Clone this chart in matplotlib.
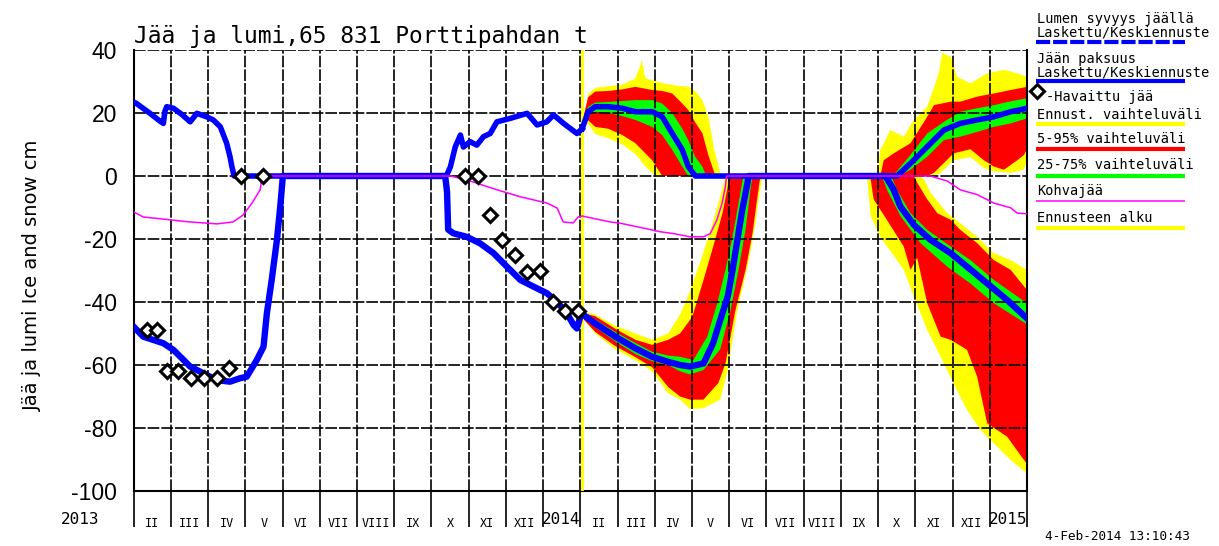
import numpy as np
import matplotlib
matplotlib.use('Agg')
import matplotlib.pyplot as plt
from matplotlib.lines import Line2D

# ---------------- data (x in months since Jan 2013) ----------------
title = "Jää ja lumi,65 831 Porttipahdan t"
ylabel = "Jää ja lumi Ice and snow cm"
month_labels = ['II', 'III', 'IV', 'V', 'VI', 'VII', 'VIII', 'IX', 'X', 'XI', 'XII']
year_labels = ['2013', '2014', '2015']
y_ticks = [40, 20, 0, -20, -40, -60, -80, -100]
forecast_start = 12.05
stamp = "4-Feb-2014 13:10:43"

# observed / computed snow depth on ice
snow_obs_m = [0, 0.08, 0.44, 0.70, 0.80, 0.84, 0.89, 1.07, 1.30, 1.52, 1.70, 1.96, 2.14, 2.33, 2.50, 2.59,
              2.64, 2.70, 8.37, 8.42, 8.51, 8.64, 8.72, 8.78, 8.86, 9.04, 9.22, 9.40, 9.58, 9.76, 10.12,
              10.57, 10.84, 11.10, 11.28, 11.55, 11.91, 12.05]
snow_obs_v = [23.5, 23, 19.9, 17.5, 16.7, 20.5, 22, 21.5, 19.5, 17.2, 19.9, 18.8, 17.8, 15.6, 10.4, 6.1,
              3, 0, 0, 0.5, 2.9, 9.2, 11.4, 13, 9.2, 10.9, 9.8, 12.5, 13.5, 17.2, 18.3,
              19.9, 16.2, 17.2, 19.4, 16.7, 13.5, 15]

# observed / computed ice thickness
ice_obs_m = [0, 0.26, 0.80, 1.07, 1.52, 1.87, 2.23, 2.59, 2.86, 3.04, 3.31, 3.49, 3.58, 3.71, 3.85, 3.94,
             4.01, 8.37, 8.42, 8.45, 8.59, 8.95, 9.31, 9.67, 10.03, 10.39, 10.74, 11.10, 11.37, 11.64,
             11.82, 11.91, 12.0, 12.05]
ice_obs_v = [-47.8, -51, -53.1, -55.2, -60.5, -62.6, -64.8, -65.3, -64.2, -63.7, -58.4, -54.2, -43.6, -33,
             -20.3, -9.7, 0, 0, -5, -17, -18.2, -19.3, -21.4, -24.5, -28.8, -33, -35.1, -37.2, -39.9,
             -43.6, -47.3, -48.4, -44.7, -43.8]

# observed ice (diamonds)
obs_m = [0.36, 0.63, 0.90, 1.19, 1.54, 1.89, 2.24, 2.56, 2.89, 3.48,
         8.91, 9.26, 9.58, 9.90, 10.25, 10.58, 10.92, 11.27, 11.60, 11.94]
obs_v = [-49, -49, -62, -62, -64, -64, -64, -61, 0, 0,
         0, 0, -12.4, -20.3, -25, -30.5, -30, -40, -43, -43]

# slush ice (kohvajää)
kohva_m = [0, 0.26, 1.52, 2.24, 2.67, 2.94, 3.18, 3.40, 3.45, 8.51, 8.96, 9.77, 10.39, 11.11, 11.38, 11.54,
           11.81, 11.94, 12.05, 12.81, 13.08, 13.88, 14.15, 14.51, 14.95, 15.31, 15.49, 15.67, 15.81,
           15.90, 15.93, 21.40, 21.86, 22.21, 22.66, 23.11, 23.56, 23.74, 24.0]
kohva_v = [-11.4, -13, -14.6, -15.2, -14.6, -12.4, -8.6, -4.4, 0, 0, -1.3, -4.4, -6.6, -8.6, -10.2, -14.6,
           -14.9, -13, -12.7, -14.6, -15, -17, -17.7, -18.3, -19.3, -19.3, -18.3, -13.9, -8.6,
           -3.2, 0, 0, -1.6, -4.4, -5.9, -8.6, -10.1, -11.8, -12]

# forecast medians
snow_med_m = [12.05, 12.21, 12.40, 12.75, 13.13, 13.48, 13.93, 14.20, 14.47, 14.74, 14.90, 15.09,
              20.51, 20.87, 21.32, 21.77, 22.21, 22.66, 23.11, 23.56, 24.0]
snow_med_v = [15, 20.4, 22, 22, 21.5, 20.4, 20.4, 18.8, 13.5, 8.3, 3, 0,
              0, 4, 9.3, 14.6, 16.7, 17.8, 18.8, 20.4, 21.5]
ice_med_m = [12.05, 12.40, 12.94, 13.48, 13.93, 14.36, 14.68, 14.95, 15.31, 15.57, 15.76, 15.96, 16.09,
             16.22, 16.35, 16.49, 16.52, 20.20, 20.42, 20.60, 20.96, 21.41, 21.95, 22.39, 22.93,
             23.47, 24.0]
ice_med_v = [-43.8, -46.8, -51, -54.7, -57.4, -59, -60, -60.5, -59.5, -53, -45.7, -38.3, -29.8,
             -20.3, -10.8, -2.3, 0, 0, -4.4, -9.7, -15.5, -20.3, -24.5, -28.8, -34.1, -39.4, -45.2]

# ---- snow forecast bands, spring 2014 ----
sy_hi_m = [12.05, 12.21, 12.40, 12.75, 13.13, 13.48, 13.61, 13.65, 13.75, 13.93, 14.20, 14.47, 14.74,
           14.90, 15.09, 15.28, 15.44, 15.60, 15.76, 15.82]
sy_hi_v = [17, 26, 28, 28.5, 29, 31, 35, 36.8, 31, 30.4, 29.5, 28.9, 28.5, 28.4, 27, 24, 18.8, 8.3, 1, 0]
sy_lo_m = [12.05, 12.21, 12.40, 12.75, 13.13, 13.48, 13.75, 14.02]
sy_lo_v = [15.5, 16.6, 13.3, 12, 10, 7, 3, 0]
sr_hi_m = [12.05, 12.21, 12.40, 12.75, 13.13, 13.48, 13.93, 14.20, 14.47, 14.74, 14.90, 15.09, 15.28,
           15.44, 15.63]
sr_hi_v = [17, 25, 26.8, 27, 27.5, 28.3, 27.3, 27, 26.2, 23, 21, 17, 13.6, 6.6, 0]
sr_lo_m = [12.05, 12.21, 12.40, 12.75, 13.13, 13.48, 13.93, 14.20]
sr_lo_v = [16, 17.7, 15.6, 15, 13, 10.4, 5, 0]
sg_hi_m = [12.05, 12.21, 12.40, 12.75, 13.13, 13.48, 13.93, 14.20, 14.47, 14.74, 14.90, 15.09, 15.28, 15.38]
sg_hi_v = [16.8, 22, 23.3, 23.5, 23.8, 24.1, 24.1, 23, 20, 15, 11.4, 6, 3, 0]
sg_lo_m = [12.05, 12.21, 12.40, 12.75, 13.13, 13.48, 13.93, 14.20, 14.47, 14.74, 14.90]
sg_lo_v = [16.3, 19.5, 20.4, 20, 19, 17.8, 15.6, 13, 8.3, 3, 0]

# ---- snow forecast bands, autumn 2014 ----
sy3_hi_m = [19.98, 20.06, 20.33, 20.69, 20.96, 21.32, 21.63, 21.72, 21.95, 22.12, 22.48, 22.93, 23.38,
            23.74, 24.0]
sy3_hi_v = [0, 8.3, 14.6, 12.5, 17.8, 22, 32.6, 39, 37.9, 31.5, 29.4, 32.6, 33.7, 32.6, 31.5]
sy3_lo_m = [19.98, 21.32, 21.63, 22.03, 22.48, 22.84, 23.11, 23.56, 23.92, 24.0]
sy3_lo_v = [0, 0, 0.5, 5, 6, 2.5, 1.5, 1, 2, 5]
sr3_hi_m = [20.06, 20.15, 20.42, 20.87, 21.32, 21.50, 21.95, 22.21, 22.66, 23.11, 23.56, 24.0]
sr3_hi_v = [0, 5, 7.2, 10.4, 18.8, 22.5, 23.6, 23.6, 25.2, 26.2, 27.3, 28.3]
sr3_lo_m = [20.06, 21.32, 21.50, 22.03, 22.48, 22.84, 23.11, 23.38, 23.74, 23.92, 24.0]
sr3_lo_v = [0, 0, 1, 7.2, 8.5, 5, 3, 2, 5, 6.7, 8.5]
sg3_hi_m = [20.40, 20.87, 21.32, 21.77, 22.21, 22.66, 23.11, 23.56, 24.0]
sg3_hi_v = [0, 6.7, 13.5, 17.2, 20.4, 21.5, 22.5, 23.7, 24.7]
sg3_lo_m = [20.55, 20.87, 21.32, 21.77, 22.21, 22.66, 23.11, 23.56, 24.0]
sg3_lo_v = [0, 2, 6.1, 11.4, 12.5, 14, 15.6, 16.7, 18.3]

# ---- ice forecast bands, spring 2014 ----
iy_hi_m = [12.05, 12.40, 12.94, 13.48, 13.93, 14.36, 14.68, 14.90, 15.23, 15.49, 15.76, 15.90]
iy_hi_v = [-43, -44, -47.5, -50, -52, -50, -44, -38, -27, -17.5, -6.5, 0]
iy_lo_m = [12.05, 12.40, 12.94, 13.48, 13.93, 14.36, 14.68, 14.95, 15.31, 15.76, 15.96, 16.22, 16.49,
           16.68, 16.81, 16.89]
iy_lo_v = [-45, -50, -55, -58.5, -62, -69, -71, -74, -73.7, -71, -61.6, -42.5, -29, -17, -6, 0]
ir_hi_m = [12.05, 12.40, 12.94, 13.48, 13.93, 14.36, 14.68, 15.01, 15.31, 15.57, 15.82, 15.96, 15.99]
ir_hi_v = [-43.5, -44.5, -48.5, -52, -53.6, -52, -50, -44.7, -33, -22.4, -11.8, -3.4, 0]
ir_lo_m = [12.05, 12.40, 12.94, 13.48, 13.93, 14.36, 14.68, 14.95, 15.31, 15.71, 15.90, 16.17, 16.44,
           16.63, 16.76, 16.84]
ir_lo_v = [-45, -49.5, -54, -57.5, -60.7, -67, -70, -71, -71, -65.7, -59.5, -42.5, -29.8, -18, -6.4, 0]
ig_hi_m = [12.05, 12.40, 12.94, 13.48, 13.93, 14.36, 14.68, 15.04, 15.41, 15.68, 15.90, 16.09, 16.25, 16.38]
ig_hi_v = [-44, -45.5, -49.5, -53, -55.8, -57, -57.4, -58.4, -51, -40.4, -29.8, -19.3, -8.7, 0]
ig_lo_m = [12.05, 12.40, 12.94, 13.48, 13.93, 14.36, 14.68, 14.95, 15.31, 15.76, 16.04, 16.25, 16.44,
           16.57, 16.63]
ig_lo_v = [-44.5, -48, -52.5, -56.5, -58.8, -60, -62, -63, -61.6, -55, -42.5, -29.8, -17, -4.4, 0]

# ---- ice forecast bands, autumn 2014 ----
iy3_hi_m = [19.72, 21.14, 21.23, 21.41, 21.86, 22.21, 22.66, 23.11, 23.56, 24.0]
iy3_hi_v = [0, 0, -1, -5.3, -11.8, -15, -19.3, -24.5, -26.7, -29.8]
iy3_lo_m = [19.70, 19.80, 20.06, 20.69, 20.96, 21.32, 21.68, 22.03, 22.39, 22.75, 23.11, 23.56, 24.0]
iy3_lo_v = [0, -12.7, -19.3, -29.8, -38.3, -48.9, -57.4, -65.9, -74.3, -80.6, -84.9, -90.2, -94.4]
ir3_hi_m = [19.80, 20.96, 21.05, 21.32, 21.59, 21.95, 22.21, 22.66, 23.11, 23.56, 24.0]
ir3_hi_v = [0, 0, -2.1, -7.4, -11.8, -13.9, -17.1, -21.3, -26.7, -29.8, -36.2]
ir3_lo_m = [19.78, 19.80, 19.88, 20.24, 20.69, 20.87, 21.05, 21.32, 21.68, 21.95, 22.39, 22.66, 22.93,
            23.47, 23.92, 24.0]
ir3_lo_v = [0, -1, -7.4, -14, -22.4, -29.8, -26, -40.4, -51, -52, -55.2, -63.7, -78.5, -82.8, -90.2, -91.2]
ig3_hi_m = [20.35, 20.51, 20.87, 21.32, 21.95, 22.48, 23.11, 24.0]
ig3_hi_v = [0, -4.4, -11.8, -17.1, -22.4, -26.7, -33, -40.4]
ig3_lo_m = [20.10, 20.24, 20.60, 21.14, 21.86, 22.48, 23.11, 24.0]
ig3_lo_v = [0, -4.4, -12.7, -21.3, -28.8, -34.1, -40.4, -47.1]

YELLOW, RED, GREEN, BLUE, MAGENTA = '#ffff00', '#ff0000', '#00ff00', '#0000ff', '#ff00ff'

# ---------------- figure ----------------
W, H = 1219, 546
fig = plt.figure(figsize=(W / 100, H / 100), dpi=100)


def fx(x):
    return x / W


def fy(y):
    return 1 - y / H


ax = fig.add_axes([fx(133.6), fy(491), (1027 - 133.6) / W, (491 - 50) / H])


def band(hi_m, hi_v, lo_m, lo_v, color, z):
    xs = np.concatenate([np.asarray(hi_m), np.asarray(lo_m)[::-1]])
    ys = np.concatenate([np.asarray(hi_v), np.asarray(lo_v)[::-1]])
    ax.fill(xs, ys, color=color, lw=0, zorder=z)


for (a, b, c, d) in [(sy_hi_m, sy_hi_v, sy_lo_m, sy_lo_v), (sy3_hi_m, sy3_hi_v, sy3_lo_m, sy3_lo_v),
                     (iy_hi_m, iy_hi_v, iy_lo_m, iy_lo_v), (iy3_hi_m, iy3_hi_v, iy3_lo_m, iy3_lo_v)]:
    band(a, b, c, d, YELLOW, 1.0)
for (a, b, c, d) in [(sr_hi_m, sr_hi_v, sr_lo_m, sr_lo_v), (sr3_hi_m, sr3_hi_v, sr3_lo_m, sr3_lo_v),
                     (ir_hi_m, ir_hi_v, ir_lo_m, ir_lo_v), (ir3_hi_m, ir3_hi_v, ir3_lo_m, ir3_lo_v)]:
    band(a, b, c, d, RED, 1.1)
for (a, b, c, d) in [(sg_hi_m, sg_hi_v, sg_lo_m, sg_lo_v), (sg3_hi_m, sg3_hi_v, sg3_lo_m, sg3_lo_v),
                     (ig_hi_m, ig_hi_v, ig_lo_m, ig_lo_v), (ig3_hi_m, ig3_hi_v, ig3_lo_m, ig3_lo_v)]:
    band(a, b, c, d, GREEN, 1.2)

ax.axvline(forecast_start, color=YELLOW, lw=2.0, zorder=2.6)

ax.plot(snow_obs_m, snow_obs_v, color=BLUE, lw=4.0, zorder=3)
ax.plot(ice_obs_m, ice_obs_v, color=BLUE, lw=4.6, zorder=3)
ax.plot(snow_med_m, snow_med_v, color=BLUE, lw=4.0, zorder=3)
ax.plot(ice_med_m, ice_med_v, color=BLUE, lw=4.6, zorder=3)
ax.plot(kohva_m, kohva_v, color=MAGENTA, lw=1.1, zorder=3.5)
ax.plot(obs_m, obs_v, ls='none', marker='D', ms=7, mfc='white', mec='black', mew=2.2, zorder=4)

ax.set_xlim(0, 24)
ax.set_ylim(-100, 40)

# grid & ticks
ax.set_xticks(np.arange(0, 25))
ax.set_xticklabels([])
ax.tick_params(axis='x', which='major', length=26, width=1.2, direction='out', color='black')
minor_pos = [k + 0.5 for k in range(0, 11)] + [k + 0.5 for k in range(12, 23)]
ax.set_xticks(minor_pos, minor=True)
ax.set_xticklabels(month_labels + month_labels, minor=True, fontfamily='DejaVu Sans Mono', fontsize=8.5)
ax.tick_params(axis='x', which='minor', length=0, pad=19)

ax.set_yticks(y_ticks)
ax.set_yticklabels([str(v) for v in y_ticks], fontfamily='Liberation Sans', fontsize=16.5)
ax.tick_params(axis='y', length=0, pad=12)

ax.set_axisbelow(False)
ax.grid(True, which='major', color='black', lw=1.2, linestyle=(0, (7, 1.2)))
for s in ['left', 'bottom', 'right']:
    ax.spines[s].set_linewidth(1.5)
ax.spines['top'].set_visible(False)

# year labels
xt = ax.get_xaxis_transform()
ax.text(12, (491 - 520) / 441, year_labels[1], transform=xt, ha='right', va='center',
        fontfamily='DejaVu Sans Mono', fontsize=11.5)
ax.text(24, (491 - 520) / 441, year_labels[2], transform=xt, ha='right', va='center',
        fontfamily='DejaVu Sans Mono', fontsize=11.5)
fig.text(fx(61), fy(520), year_labels[0], ha='left', va='center', fontfamily='DejaVu Sans Mono',
         fontsize=11.5)

# title, y label, stamp
fig.text(fx(134), fy(36), title, ha='left', va='center', fontfamily='DejaVu Sans Mono', fontsize=16.5)
fig.text(fx(32), fy(275), ylabel, rotation=90, ha='center', va='center', fontfamily='DejaVu Sans',
         fontsize=14)
fig.text(fx(1045), fy(537), stamp, ha='left', va='center', fontfamily='DejaVu Sans Mono', fontsize=9.2)

# ---------------- legend (outside, right) ----------------
LX0, LX1, TX = 1036, 1185, 1037
lf = dict(ha='left', va='center', fontfamily='DejaVu Sans Mono', fontsize=9.8)


def lline(y, color, lw, ls='-'):
    fig.add_artist(Line2D([fx(LX0), fx(LX1)], [fy(y), fy(y)], transform=fig.transFigure,
                          color=color, lw=lw, ls=ls, solid_capstyle='butt', dash_capstyle='butt'))


fig.text(fx(TX), fy(19), "Lumen syvyys jäällä", **lf)
fig.text(fx(TX), fy(33), "Laskettu/Keskiennuste", **lf)
lline(42, BLUE, 3.0, (0, (3.4, 0.7)))
fig.text(fx(TX), fy(59), "Jään paksuus", **lf)
fig.text(fx(TX), fy(72), "Laskettu/Keskiennuste", **lf)
lline(81, BLUE, 3.0)
fig.add_artist(Line2D([fx(1037)], [fy(91)], transform=fig.transFigure, ls='none', marker='D', ms=7,
                      mfc='white', mec='black', mew=2.2))
fig.text(fx(1046), fy(97), "-Havaittu jää", **lf)
fig.text(fx(TX), fy(115), "Ennust. vaihteluväli", **lf)
lline(124, YELLOW, 3.0)
fig.text(fx(TX), fy(139), "5-95% vaihteluväli", **lf)
lline(149, RED, 3.0)
fig.text(fx(TX), fy(165), "25-75% vaihteluväli", **lf)
lline(176, GREEN, 3.0)
fig.text(fx(TX), fy(191), "Kohvajää", **lf)
lline(201, MAGENTA, 1.1)
fig.text(fx(TX), fy(218), "Ennusteen alku", **lf)
lline(228, YELLOW, 3.0)

fig.savefig('out.png', dpi=100)
